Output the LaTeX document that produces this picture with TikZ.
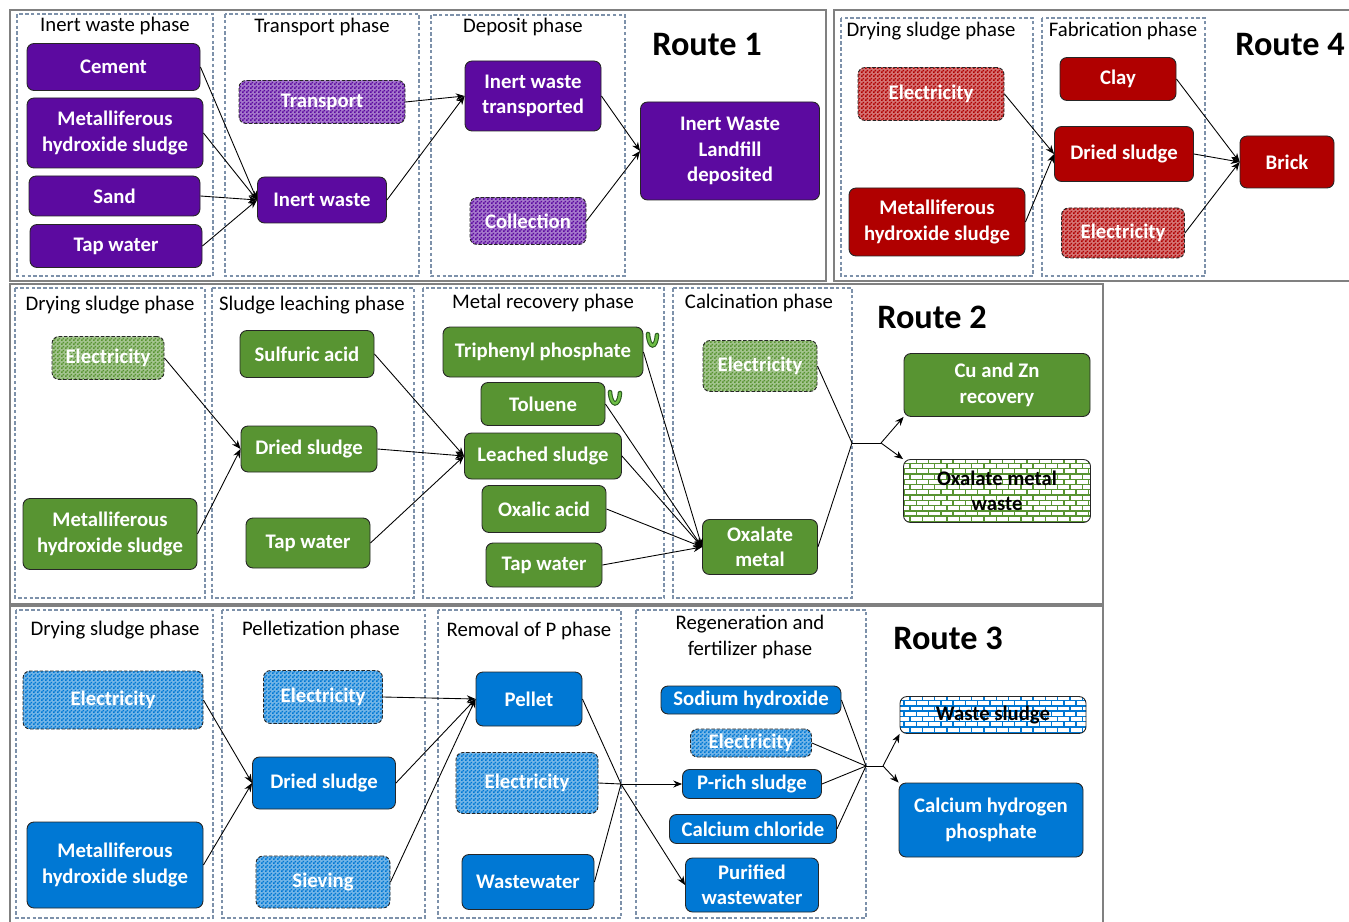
\documentclass[tikz,border=0pt]{standalone}
\usepackage{fontspec}
\setmainfont{Carlito}
\usetikzlibrary{arrows.meta,patterns}
\definecolor{rtpurple}{RGB}{92,10,160}
\definecolor{rtred}{RGB}{176,0,0}
\definecolor{rtgreen}{RGB}{88,148,50}
\definecolor{rtblue}{RGB}{0,120,212}
\definecolor{phasec}{RGB}{125,145,170}
\definecolor{vdark}{RGB}{40,90,30}
\definecolor{vlight}{RGB}{110,190,70}
\pgfdeclarepatternformonly{finechecker}{\pgfqpoint{0pt}{0pt}}{\pgfqpoint{2pt}{2pt}}{\pgfqpoint{2pt}{2pt}}{
	\pgfpathrectangle{\pgfqpoint{0pt}{0pt}}{\pgfqpoint{1pt}{1pt}}
	\pgfpathrectangle{\pgfqpoint{1pt}{1pt}}{\pgfqpoint{1pt}{1pt}}
	\pgfusepath{fill}}
\pgfdeclarepatternformonly{smallbricks}{\pgfqpoint{-0.5pt}{-0.5pt}}{\pgfqpoint{7.5pt}{6.5pt}}{\pgfqpoint{7pt}{6pt}}{
	\pgfsetlinewidth{0.8pt}
	\pgfpathmoveto{\pgfqpoint{0pt}{0pt}}\pgfpathlineto{\pgfqpoint{7pt}{0pt}}
	\pgfpathmoveto{\pgfqpoint{0pt}{3pt}}\pgfpathlineto{\pgfqpoint{7pt}{3pt}}
	\pgfpathmoveto{\pgfqpoint{0pt}{0pt}}\pgfpathlineto{\pgfqpoint{0pt}{3pt}}
	\pgfpathmoveto{\pgfqpoint{3.5pt}{3pt}}\pgfpathlineto{\pgfqpoint{3.5pt}{6pt}}
	\pgfusepath{stroke}}

\begin{document}
\begin{tikzpicture}[x=0.02cm,y=-0.02cm,
	wh/.style 2 args={minimum width=#1*0.02cm,minimum height=#2*0.02cm},
	box/.style={draw=black!85,line width=0.5pt,rounded corners=4pt,inner sep=0pt,align=center,text=white,font=\bfseries\fontsize{11.8}{14.5}\selectfont},
	fullbox/.style={box,fill=#1},
	elecbox/.style={box,dash pattern=on 2pt off 1pt,preaction={fill=#1!55},pattern=finechecker,pattern color=#1},
	wastebox/.style={box,text=black,preaction={fill=white},pattern=smallbricks,pattern color=#1},
	route/.style={draw=black!50,line width=1pt},
	phase/.style={draw=phasec,dash pattern=on 2pt off 1.3pt,line width=0.6pt},
	ptitle/.style={align=center,font=\fontsize{11.8}{14.5}\selectfont},
	rtitle/.style={font=\bfseries\fontsize{19.5}{22}\selectfont},
	flow/.style={-{Stealth[length=5pt,width=4pt]},line width=0.5pt},
	vmark/.style={draw=vdark,double=vlight,double distance=1.4pt,line width=0.6pt,line cap=round}]
	\useasboundingbox (0,0) rectangle (1349,922);
	\fill[white] (0,0) rectangle (1349,922);

	\draw[route] (10,10) rectangle (826,281);
	\draw[route] (834,10) rectangle (1360,281);
	\draw[route] (10,284) rectangle (1103,604);
	\draw[route] (10,606) rectangle (1103,935);

	\draw[phase] (17,14) rectangle (213,276);
	\draw[phase] (225,14) rectangle (419,276);
	\draw[phase] (431,15) rectangle (625,276);
	\draw[phase] (841,18) rectangle (1033,276);
	\draw[phase] (1042,18) rectangle (1205,276);
	\draw[phase] (15,288) rectangle (205,598);
	\draw[phase] (212,288) rectangle (414,598);
	\draw[phase] (423,288) rectangle (664,598);
	\draw[phase] (673,288) rectangle (852,598);
	\draw[phase] (16,610) rectangle (213,918);
	\draw[phase] (222,610) rectangle (425,918);
	\draw[phase] (438,610) rectangle (621,918);
	\draw[phase] (636,610) rectangle (866,918);

	\node[ptitle] (t11) at (115,26) {Inert waste phase};
	\node[ptitle] (t12) at (322,27) {Transport phase};
	\node[ptitle] (t13) at (523,27) {Deposit phase};
	\node[ptitle] (t41) at (931,31) {Drying sludge phase};
	\node[ptitle] (t42) at (1123,31) {Fabrication phase};
	\node[ptitle] (t21) at (110,305) {Drying sludge phase};
	\node[ptitle] (t22) at (312,305) {Sludge leaching phase};
	\node[ptitle] (t23) at (543,303) {Metal recovery phase};
	\node[ptitle] (t24) at (759,303) {Calcination phase};
	\node[ptitle] (t31) at (115,630) {Drying sludge phase};
	\node[ptitle] (t32) at (321,630) {Pelletization phase};
	\node[ptitle] (t33) at (529,631) {Removal of P phase};
	\node[ptitle] (t34) at (750,637) {Regeneration and\\fertilizer phase};

	\node[rtitle] (r1) at (707,45) {Route 1};
	\node[rtitle] (r4) at (1290,45) {Route 4};
	\node[rtitle] (r2) at (932,317) {Route 2};
	\node[rtitle] (r3) at (948,638) {Route 3};

	\node[fullbox=rtpurple,wh={173}{47}] (cem) at (113.5,67) {Cement};
	\node[fullbox=rtpurple,wh={176}{70}] (mhs1) at (115,133) {Metalliferous\\hydroxide sludge};
	\node[fullbox=rtpurple,wh={171}{40}] (sand) at (114.5,196) {Sand};
	\node[fullbox=rtpurple,wh={172}{43}] (tap1) at (116,246) {Tap water};
	\node[fullbox=rtpurple,wh={129}{46}] (iw) at (322,200) {Inert waste};
	\node[elecbox=rtpurple,wh={166}{43}] (trans) at (322,102) {Transport};
	\node[fullbox=rtpurple,wh={136}{70}] (iwt) at (533,96) {Inert waste\\transported};
	\node[elecbox=rtpurple,wh={116}{47}] (coll) at (528,221) {Collection};
	\node[fullbox=rtpurple,wh={179}{98}] (land) at (730,151) {Inert Waste\\Landfill\\deposited};

	\draw[flow] (cem.east) -- (iw.west);
	\draw[flow] (mhs1.east) -- (iw.west);
	\draw[flow] (sand.east) -- (iw.west);
	\draw[flow] (tap1.east) -- (iw.west);
	\draw[flow] (trans.east) -- (iwt.west);
	\draw[flow] (iw.east) -- (iwt.west);
	\draw[flow] (iwt.east) -- (land.west);
	\draw[flow] (coll.east) -- (land.west);

	\node[elecbox=rtred,wh={146}{53}] (el4a) at (931,94) {Electricity};
	\node[fullbox=rtred,wh={176}{68}] (mhs4) at (937,222) {Metalliferous\\hydroxide sludge};
	\node[fullbox=rtred,wh={116}{43}] (clay) at (1118,79) {Clay};
	\node[fullbox=rtred,wh={139}{55}] (ds4) at (1124,154) {Dried sludge};
	\node[elecbox=rtred,wh={123}{50}] (el4b) at (1123,233) {Electricity};
	\node[fullbox=rtred,wh={94}{52}] (brick) at (1287,162) {Brick};

	\draw[flow] (el4a.east) -- (ds4.west);
	\draw[flow] (mhs4.east) -- (ds4.west);
	\draw[flow] (clay.east) -- (brick.west);
	\draw[flow] (ds4.east) -- (brick.west);
	\draw[flow] (el4b.east) -- (brick.west);

	\node[elecbox=rtgreen,wh={112}{43}] (el2a) at (108,358) {Electricity};
	\node[fullbox=rtgreen,wh={174}{71}] (mhs2) at (110,534) {Metalliferous\\hydroxide sludge};
	\node[fullbox=rtgreen,wh={134}{47}] (sulf) at (307,354) {Sulfuric acid};
	\node[fullbox=rtgreen,wh={136}{46}] (ds2) at (309,449) {Dried sludge};
	\node[fullbox=rtgreen,wh={124}{50}] (tap2a) at (308,543) {Tap water};
	\node[fullbox=rtgreen,wh={200}{50}] (tpp) at (543,352) {Triphenyl phosphate};
	\node[fullbox=rtgreen,wh={124}{43}] (tol) at (543,404) {Toluene};
	\node[fullbox=rtgreen,wh={157}{46}] (leach) at (543,456) {Leached sludge};
	\node[fullbox=rtgreen,wh={124}{47}] (oxa) at (544,509) {Oxalic acid};
	\node[fullbox=rtgreen,wh={116}{44}] (tap2b) at (544,565) {Tap water};
	\node[elecbox=rtgreen,wh={114}{51}] (el2b) at (760,366) {Electricity};
	\node[fullbox=rtgreen,wh={115}{55}] (oxm) at (760,547) {Oxalate\\metal};
	\node[fullbox=rtgreen,wh={186}{63}] (cuzn) at (997,385) {Cu and Zn\\recovery};
	\node[wastebox=rtgreen,wh={187}{63}] (oxw) at (997,491) {Oxalate metal\\waste};
	\coordinate (j2) at (852,443);
	\coordinate (s2) at (881,443);

	\draw[vmark] (648,334) .. controls (649,349) and (656,349) .. (657,335);
	\draw[vmark] (610,392) .. controls (611,407) and (619,407) .. (620,393);

	\draw[flow] (el2a.east) -- (ds2.west);
	\draw[flow] (mhs2.east) -- (ds2.west);
	\draw[flow] (sulf.east) -- (leach.west);
	\draw[flow] (ds2.east) -- (leach.west);
	\draw[flow] (tap2a.east) -- (leach.west);
	\draw[flow] (tpp.east) -- (oxm.west);
	\draw[flow] (tol.east) -- (oxm.west);
	\draw[flow] (leach.east) -- (oxm.west);
	\draw[flow] (oxa.east) -- (oxm.west);
	\draw[flow] (tap2b.east) -- (oxm.west);
	\draw[line width=0.5pt] (el2b.east) -- (j2) -- (oxm.east);
	\draw[line width=0.5pt] (j2) -- (s2);
	\draw[flow] (s2) -- (cuzn.south west);
	\draw[flow] (s2) -- (oxw.north west);

	\node[elecbox=rtblue,wh={180}{58}] (el3a) at (113,700) {Electricity};
	\node[fullbox=rtblue,wh={176}{86}] (mhs3) at (115,865) {Metalliferous\\hydroxide sludge};
	\node[elecbox=rtblue,wh={119}{53}] (el3b) at (323,697) {Electricity};
	\node[fullbox=rtblue,wh={143}{52}] (ds3) at (324,783) {Dried sludge};
	\node[elecbox=rtblue,wh={134}{52}] (siev) at (323,882) {Sieving};
	\node[fullbox=rtblue,wh={106}{54}] (pel) at (529,699) {Pellet};
	\node[elecbox=rtblue,wh={142}{61}] (el3c) at (527,783) {Electricity};
	\node[fullbox=rtblue,wh={132}{55}] (ww) at (528,882) {Wastewater};
	\node[fullbox=rtblue,wh={180}{28}] (naoh) at (751,700) {Sodium hydroxide};
	\node[elecbox=rtblue,wh={121}{28}] (el3d) at (751,743) {Electricity};
	\node[fullbox=rtblue,wh={139}{29}] (prs) at (752,784) {P-rich sludge};
	\node[fullbox=rtblue,wh={167}{29}] (cacl) at (753,829) {Calcium chloride};
	\node[fullbox=rtblue,wh={133}{54}] (pww) at (752,885) {Purified\\wastewater};
	\node[wastebox=rtblue,wh={186}{37}] (ws) at (993,715) {Waste sludge};
	\node[fullbox=rtblue,wh={184}{74}] (chp) at (991,820) {Calcium hydrogen\\phosphate};
	\coordinate (j3a) at (621,784);
	\coordinate (j3b) at (866,766);
	\coordinate (s3) at (883,766);

	\draw[flow] (el3a.east) -- (ds3.west);
	\draw[flow] (mhs3.east) -- (ds3.west);
	\draw[flow] (el3b.east) -- (pel.west);
	\draw[flow] (ds3.east) -- (pel.west);
	\draw[flow] (siev.east) -- (pel.west);
	\draw[line width=0.5pt] (pel.east) -- (j3a);
	\draw[line width=0.5pt] (el3c.east) -- (j3a);
	\draw[line width=0.5pt] (ww.east) -- (j3a);
	\draw[flow] (j3a) -- (prs.west);
	\draw[flow] (j3a) -- (pww.west);
	\draw[line width=0.5pt] (naoh.east) -- (j3b);
	\draw[line width=0.5pt] (el3d.east) -- (j3b);
	\draw[line width=0.5pt] (prs.east) -- (j3b);
	\draw[line width=0.5pt] (cacl.east) -- (j3b);
	\draw[line width=0.5pt] (j3b) -- (s3);
	\draw[flow] (s3) -- (ws.south west);
	\draw[flow] (s3) -- (chp.north west);
\end{tikzpicture}
\end{document}
